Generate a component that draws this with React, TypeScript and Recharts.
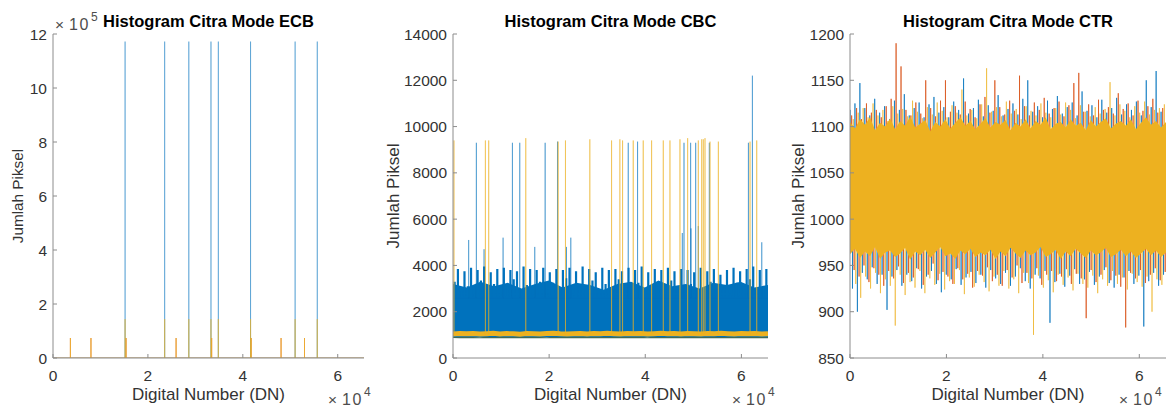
import React from "react";
import { ComposedChart, Line, Area, XAxis, YAxis } from "recharts";

const FONT = "'Liberation Sans', Arial, Helvetica, sans-serif";
const AXIS = "#8c8c8c";
const TEXT = "#333333";
const EXP = "#4d4d4d";
const BLUE = "#0072BD";
const ORANGE = "#D95319";
const YELLOW = "#EDB120";

const DN_MAX = 65536;
const dnTicks = [0, 20000, 40000, 60000];

// ---------- ECB ----------
const ecbTallDN = [15190, 23530, 28620, 33290, 34840, 41630, 51020, 55690];
const ecbTallBlue = [1172000, 1172000, 1172000, 1172000, 1172000, 1172000, 1172000, 1172000];
const ecbTallYellow = [144000, 144000, 144000, 144000, 144000, 144000, 144000, 144000];
const ecbSmallDN = [3670, 8000, 15400, 25940, 33430, 41770, 48060, 53000];
const ecbSmallCount = [74000, 74000, 74000, 74000, 74000, 74000, 74000, 74000];
const ecbYTicks = [0, 200000, 400000, 600000, 800000, 1000000, 1200000];

// ---------- CBC ----------
const cbcBlueSolid = [3200, 3050, 3300, 3100, 3250, 3000, 3200, 3350, 3050, 3250, 3150, 2950, 3200, 3300, 3050, 3350, 3100, 3200, 3000, 3250, 3150, 3300, 3050, 3150];
const cbcBlueFloor = 900;
const cbcBlueTop = [
  3300, 3850, 2900, 3750, 3100, 3900, 2800, 3800, 3350, 3950, 2950, 3700, 3200, 3850, 2850, 3900,
  3050, 3800, 3400, 3750, 2900, 3950, 3150, 3850, 2750, 3800, 3300, 3900, 3000, 3700, 3250, 3850,
  2900, 3800, 3450, 3900, 2800, 3750, 3100, 3950, 3000, 3850, 3350, 3700, 2850, 3900, 3200, 3800,
  2950, 3850, 3400, 3750, 3050, 3900, 2800, 3800, 3250, 3950, 2900, 3700, 3150, 3850, 3000, 3800,
  2750, 3900, 3350, 3750, 3100, 3850, 2900, 3800, 3200, 3700, 2850, 3900, 3050, 3750, 3300, 3850,
  2950, 3600, 3150, 3800, 2800, 3900, 3250, 3750, 3000, 3850, 3400, 3950, 2900, 3800, 3100, 3850,
];
const cbcYellowBand = [
  1040, 1055, 1045, 1060, 1035, 1050, 1065, 1040, 1055, 1045, 1030, 1060, 1050, 1040, 1055, 1065,
  1045, 1035, 1050, 1060, 1040, 1055, 1045, 1070, 1050, 1035, 1060, 1045, 1055, 1040, 1050, 1065,
  1045, 1055, 1035, 1060, 1050, 1040, 1055, 1045, 1065, 1050, 1040, 1060, 1045, 1055, 1035, 1050,
];
const cbcFloorLine = [
  885, 878, 890, 882, 875, 888, 880, 892, 877, 884, 889, 879, 886, 881, 876, 890,
  883, 887, 878, 891, 880, 885, 877, 889, 882, 886, 879, 884, 890, 876, 888, 881,
  885, 878, 892, 880, 887, 883, 877, 889, 881, 886, 879, 884, 890, 878, 885, 882,
];
const cbcYellowSpikeDN = [200, 6740, 7430, 15140, 21880, 23400, 28470, 32990, 34720, 35280, 37500, 39580, 41320, 43750, 45140, 47220, 48820, 51040, 51740, 52080, 52430, 53470, 55210, 61800, 63190];
const cbcYellowSpikeCount = [9400, 9400, 9400, 9500, 9350, 9400, 9450, 9400, 9450, 9400, 9400, 9400, 9400, 9400, 9400, 9450, 9500, 9400, 9450, 9450, 9500, 9350, 9350, 9350, 9400];
const cbcBlueSpikeDN = [4860, 12360, 13890, 19170, 21740, 36460, 38400, 48060, 49440, 50490, 53330, 61460, 62290];
const cbcBlueSpikeCount = [9300, 9300, 9300, 9300, 9350, 9300, 9350, 9300, 9300, 9300, 9300, 9300, 12200];
const cbcMidSpikeDN = [3260, 6460, 10420, 17010, 23610, 24510, 47710, 49510, 51040, 64240];
const cbcMidSpikeCount = [5100, 4700, 5200, 4800, 4800, 5200, 5400, 5600, 5700, 5000];
const cbcSpikeBase = 2600;
const cbcYTicks = [0, 2000, 4000, 6000, 8000, 10000, 12000, 14000];

// ---------- CTR ----------
const ctrBandHi = [
  1105, 1098, 1108, 1102, 1110, 1096, 1104, 1100, 1109, 1097, 1106, 1101, 1111, 1099, 1103, 1107,
  1095, 1105, 1100, 1108, 1098, 1104, 1110, 1101, 1106, 1097, 1103, 1109, 1099, 1105, 1102, 1107,
  1096, 1104, 1100, 1108, 1098, 1106, 1102, 1110, 1097, 1103, 1105, 1099, 1108, 1101, 1104, 1096,
  1107, 1100, 1105, 1109, 1098, 1103, 1106, 1101, 1108, 1097, 1104, 1110, 1102, 1106, 1099, 1105,
];
const ctrBandLo = [
  962, 968, 958, 965, 960, 970, 957, 964, 966, 959, 963, 969, 956, 965, 961, 967,
  958, 964, 970, 960, 963, 957, 966, 962, 968, 959, 964, 961, 967, 957, 965, 960,
  969, 963, 958, 966, 961, 964, 970, 959, 962, 967, 957, 965, 960, 968, 963, 958,
  966, 961, 964, 969, 959, 962, 967, 960, 965, 958, 963, 968, 961, 966, 959, 964,
];
const ctrBlueHi = [
  1118, 1125, 1147, 1120, 1112, 1130, 1115, 1122, 1108, 1128, 1118, 1135, 1112, 1120, 1126, 1110,
  1124, 1132, 1115, 1121, 1110, 1127, 1118, 1152, 1114, 1120, 1129, 1111, 1123, 1117, 1134, 1112,
  1119, 1125, 1113, 1130, 1150, 1116, 1122, 1110, 1128, 1119, 1133, 1114, 1121, 1126, 1112, 1138,
  1117, 1123, 1110, 1129, 1115, 1120, 1131, 1113, 1124, 1118, 1127, 1112, 1150, 1121, 1160, 1116,
];
const ctrBlueLo = [
  925, 900, 942, 935, 948, 930, 940, 902, 938, 945, 928, 940, 933, 947, 925, 938,
  944, 930, 921, 940, 935, 946, 929, 937, 943, 931, 940, 926, 945, 936, 930, 942,
  928, 938, 947, 933, 925, 940, 936, 944, 888, 932, 941, 927, 939, 946, 930, 935,
  943, 929, 938, 945, 931, 926, 940, 937, 944, 930, 939, 884, 933, 942, 928, 940,
];
const ctrOrangeHi = [
  1112, 1120, 1108, 1125, 1115, 1118, 1110, 1122, 1130, 1190, 1165, 1118, 1112, 1126, 1114, 1150,
  1120, 1111, 1128, 1150, 1116, 1122, 1113, 1127, 1119, 1110, 1124, 1132, 1115, 1150, 1121, 1113,
  1128, 1117, 1155, 1122, 1112, 1126, 1118, 1131, 1114, 1120, 1127, 1111, 1123, 1147, 1158, 1116,
  1124, 1112, 1129, 1118, 1121, 1114, 1136, 1119, 1125, 1112, 1128, 1117, 1122, 1130, 1115, 1120,
];
const ctrOrangeLo = [
  945, 938, 950, 932, 947, 940, 928, 944, 936, 949, 931, 942, 937, 946, 929, 940,
  952, 934, 943, 938, 930, 947, 935, 941, 926, 944, 939, 948, 933, 940, 928, 945,
  937, 950, 931, 942, 936, 947, 929, 940, 944, 933, 938, 946, 930, 941, 936, 893,
  945, 932, 940, 948, 934, 939, 927, 883, 942, 936, 945, 931, 940, 947, 934, 943,
];
const ctrYellowHi = [
  1108, 1115, 1120, 1110, 1125, 1112, 1118, 1106, 1122, 1114, 1119, 1111, 1128, 1116, 1109, 1121,
  1113, 1126, 1117, 1110, 1123, 1115, 1140, 1112, 1118, 1109, 1124, 1163, 1116, 1121, 1111, 1127,
  1114, 1119, 1108, 1122, 1117, 1112, 1125, 1115, 1110, 1120, 1113, 1126, 1118, 1109, 1123, 1116,
  1111, 1121, 1114, 1119, 1148, 1112, 1124, 1117, 1110, 1122, 1115, 1127, 1113, 1118, 1120, 1124,
];
const ctrYellowLo = [
  930, 915, 938, 925, 942, 920, 935, 928, 885, 940, 918, 932, 926, 944, 920, 936,
  929, 941, 924, 933, 930, 945, 919, 937, 927, 940, 932, 922, 938, 928, 944, 925,
  935, 920, 942, 931, 875, 939, 926, 934, 921, 940, 929, 937, 923, 941, 930, 926,
  939, 920, 935, 928, 944, 930, 937, 924, 941, 932, 927, 938, 900, 935, 929, 941,
];
const ctrSpikeBase = 1030;
const ctrYTicks = [850, 900, 950, 1000, 1050, 1100, 1150, 1200];

type Pt = { dn: number; v: number };

// isolated histogram spikes standing on a base level
function spikeTrain(dn: number[], counts: number[], base: number): Pt[] {
  const pairs = dn.map((d, i) => [d, counts[i]]).sort((a, b) => a[0] - b[0]);
  const pts: Pt[] = [{ dn: 0, v: base }];
  pairs.forEach(([d, c]) => {
    pts.push({ dn: d, v: base }, { dn: d, v: c }, { dn: d, v: base });
  });
  pts.push({ dn: DN_MAX, v: base });
  return pts;
}

// dense histogram: one spike per evenly spaced bin group
function comb(values: number[], base: number, phase = 0): Pt[] {
  const step = DN_MAX / values.length;
  const pts: Pt[] = [];
  values.forEach((v, i) => {
    const x = (i + phase) * step;
    pts.push({ dn: x, v: base }, { dn: x, v }, { dn: x, v: base });
  });
  return pts;
}

// dense noisy histogram with spikes going up and down from the base
function upDownComb(hi: number[], lo: number[], base: number, phase: number): Pt[] {
  const step = DN_MAX / hi.length;
  const pts: Pt[] = [];
  hi.forEach((h, i) => {
    const x = (i + phase) * step;
    const x2 = x + step / 2;
    pts.push({ dn: x, v: base }, { dn: x, v: h }, { dn: x, v: base });
    pts.push({ dn: x2, v: base }, { dn: x2, v: lo[i] }, { dn: x2, v: base });
  });
  return pts;
}

function series(values: number[]): Pt[] {
  const step = DN_MAX / (values.length - 1);
  return values.map((v, i) => ({ dn: i * step, v }));
}

const cbcRows = cbcBlueSolid.map((top, i) => ({ dn: (i * DN_MAX) / (cbcBlueSolid.length - 1), top }));
const ctrRows = ctrBandHi.map((hi, i) => ({
  dn: (i * DN_MAX) / (ctrBandHi.length - 1),
  range: [ctrBandLo[i], hi],
}));

const bottomTick = (p: any) => (
  <g>
    <line x1={p.x} y1={p.y} x2={p.x} y2={p.y - 4} stroke={AXIS} />
    <text x={p.x} y={p.y + 23} textAnchor="middle" fill={TEXT} fontSize={15.5} fontFamily={FONT}>
      {p.payload.value / 10000}
    </text>
  </g>
);
const topTick = (p: any) => <line x1={p.x} y1={p.y} x2={p.x} y2={p.y + 4} stroke={AXIS} />;
const rightTick = (p: any) => <line x1={p.x} y1={p.y} x2={p.x - 4} y2={p.y} stroke={AXIS} />;
const leftTick = (fmt: (v: number) => string) => (p: any) => (
  <g>
    <line x1={p.x} y1={p.y} x2={p.x + 4} y2={p.y} stroke={AXIS} />
    <text x={p.x - 6} y={p.y + 5.5} textAnchor="end" fill={TEXT} fontSize={15.5} fontFamily={FONT}>
      {fmt(p.payload.value)}
    </text>
  </g>
);

type PanelProps = {
  left: number;
  width: number;
  marginLeft: number;
  marginRight: number;
  data?: any[];
  yDomain: [number, number];
  yTicks: number[];
  yFmt: (v: number) => string;
  labelOffset: number;
  labelSize: number;
  children: React.ReactNode;
};

function Panel({ left, width, marginLeft, marginRight, data, yDomain, yTicks, yFmt, labelOffset, labelSize, children }: PanelProps) {
  return (
    <div style={{ position: "absolute", left, top: 0 }}>
      <ComposedChart width={width} height={408} data={data} margin={{ top: 34, right: marginRight, bottom: 20, left: marginLeft }}>
        <XAxis
          xAxisId={0}
          dataKey="dn"
          type="number"
          domain={[0, DN_MAX]}
          ticks={dnTicks}
          allowDataOverflow
          height={30}
          interval={0}
          axisLine={{ stroke: AXIS }}
          tickLine={false}
          tickSize={0}
          tickMargin={0}
          tick={bottomTick}
          label={{ value: "Digital Number (DN)", position: "bottom", offset: 0, fill: TEXT, fontSize: 17, fontFamily: FONT }}
        />
        <XAxis
          xAxisId="top"
          orientation="top"
          dataKey="dn"
          type="number"
          domain={[0, DN_MAX]}
          ticks={dnTicks}
          allowDataOverflow
          height={0}
          interval={0}
          axisLine={{ stroke: AXIS }}
          tickLine={false}
          tickSize={0}
          tickMargin={0}
          tick={topTick}
        />
        <YAxis
          yAxisId={0}
          type="number"
          domain={yDomain}
          ticks={yTicks}
          allowDataOverflow
          width={40}
          interval={0}
          axisLine={{ stroke: AXIS }}
          tickLine={false}
          tickSize={0}
          tickMargin={0}
          tick={leftTick(yFmt)}
          label={{
            value: "Jumlah Piksel",
            angle: -90,
            position: "insideLeft",
            offset: labelOffset,
            fill: TEXT,
            fontSize: labelSize,
            fontFamily: FONT,
            style: { textAnchor: "middle" },
          }}
        />
        <YAxis
          yAxisId="right"
          orientation="right"
          type="number"
          domain={yDomain}
          ticks={yTicks}
          allowDataOverflow
          width={0}
          interval={0}
          axisLine={{ stroke: AXIS }}
          tickLine={false}
          tickSize={0}
          tickMargin={0}
          tick={rightTick}
        />
        {children}
      </ComposedChart>
    </div>
  );
}

const titles = [
  { text: "Histogram Citra Mode ECB", cx: 208.5 },
  { text: "Histogram Citra Mode CBC", cx: 610.5 },
  { text: "Histogram Citra Mode CTR", cx: 1008 },
];
const expX4 = [328, 732, 1119];

function Multiplier({ x, y, power }: { x: number; y: number; power: string }) {
  return (
    <g fill={EXP} fontFamily={FONT}>
      <text x={x} y={y} fontSize={15.5}>×</text>
      <text x={x + 14} y={y} fontSize={16} letterSpacing={1.5}>10</text>
      <text x={x + 36} y={y - 9} fontSize={12}>{power}</text>
    </g>
  );
}

export default function App() {
  return (
    <div style={{ position: "absolute", left: 0, top: 0, width: 1170, height: 408, background: "#fff", fontFamily: FONT }}>
      <Panel left={0} width={380} marginLeft={13} marginRight={16} yDomain={[0, 1200000]} yTicks={ecbYTicks} yFmt={(v) => String(v / 100000)} labelOffset={5} labelSize={15.3}>
        <Line data={spikeTrain(ecbTallDN, ecbTallBlue, 0)} dataKey="v" stroke={BLUE} strokeOpacity={0.4} strokeWidth={1} dot={false} isAnimationActive={false} />
        <Line data={spikeTrain(ecbSmallDN, ecbSmallCount, 0)} dataKey="v" stroke={ORANGE} strokeOpacity={0.4} strokeWidth={1} dot={false} isAnimationActive={false} />
        <Line
          data={spikeTrain([...ecbTallDN, ...ecbSmallDN], [...ecbTallYellow, ...ecbSmallCount], 0)}
          dataKey="v"
          stroke={YELLOW}
          strokeOpacity={0.5}
          strokeWidth={1}
          dot={false}
          isAnimationActive={false}
        />
      </Panel>

      <Panel left={380} width={400} marginLeft={33} marginRight={12} data={cbcRows} yDomain={[0, 14000]} yTicks={cbcYTicks} yFmt={(v) => String(v)} labelOffset={-20} labelSize={17}>
        <Area dataKey="top" baseValue={cbcBlueFloor} type="linear" fill={BLUE} fillOpacity={1} stroke="none" isAnimationActive={false} />
        <Line data={comb(cbcBlueTop, cbcSpikeBase, 0.5)} dataKey="v" stroke={BLUE} strokeWidth={2.2} dot={false} isAnimationActive={false} />
        <Line data={spikeTrain(cbcMidSpikeDN, cbcMidSpikeCount, cbcSpikeBase)} dataKey="v" stroke={BLUE} strokeOpacity={0.45} strokeWidth={1} dot={false} isAnimationActive={false} />
        <Line data={spikeTrain(cbcBlueSpikeDN, cbcBlueSpikeCount, cbcSpikeBase)} dataKey="v" stroke={BLUE} strokeOpacity={0.45} strokeWidth={1} dot={false} isAnimationActive={false} />
        <Line data={series(cbcFloorLine)} dataKey="v" stroke="#3d6b5c" strokeWidth={1.2} dot={false} isAnimationActive={false} />
        <Line data={series(cbcYellowBand)} dataKey="v" stroke={YELLOW} strokeWidth={5} dot={false} isAnimationActive={false} />
        <Line data={spikeTrain(cbcYellowSpikeDN, cbcYellowSpikeCount, 1050)} dataKey="v" stroke={YELLOW} strokeOpacity={0.5} strokeWidth={1} dot={false} isAnimationActive={false} />
      </Panel>

      <Panel left={780} width={390} marginLeft={30} marginRight={4} data={ctrRows} yDomain={[850, 1200]} yTicks={ctrYTicks} yFmt={(v) => String(v)} labelOffset={-12} labelSize={17}>
        <Line data={upDownComb(ctrBlueHi, ctrBlueLo, ctrSpikeBase, 0)} dataKey="v" stroke={BLUE} strokeOpacity={0.7} strokeWidth={1} dot={false} isAnimationActive={false} />
        <Line data={upDownComb(ctrOrangeHi, ctrOrangeLo, ctrSpikeBase, 1 / 3)} dataKey="v" stroke={ORANGE} strokeOpacity={0.75} strokeWidth={1} dot={false} isAnimationActive={false} />
        <Line data={upDownComb(ctrYellowHi, ctrYellowLo, ctrSpikeBase, 2 / 3)} dataKey="v" stroke={YELLOW} strokeOpacity={0.6} strokeWidth={1} dot={false} isAnimationActive={false} />
        <Area dataKey="range" type="linear" fill={YELLOW} fillOpacity={1} stroke="none" zIndex={450} isAnimationActive={false} />
      </Panel>

      <svg width={1170} height={408} style={{ position: "absolute", left: 0, top: 0, pointerEvents: "none" }}>
        {titles.map((t) => (
          <text key={t.text} x={t.cx} y={27} textAnchor="middle" fontWeight="bold" fontSize={16.5} fill="#000" fontFamily={FONT}>
            {t.text}
          </text>
        ))}
        <Multiplier x={55} y={30} power="5" />
        {expX4.map((x) => (
          <Multiplier key={x} x={x} y={405} power="4" />
        ))}
      </svg>
    </div>
  );
}
